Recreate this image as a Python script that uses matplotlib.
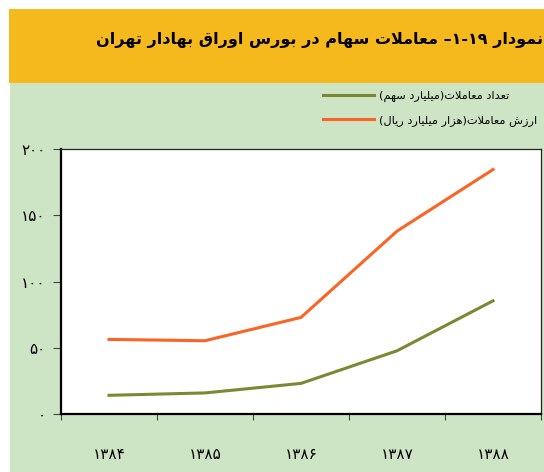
import matplotlib
matplotlib.use("Agg")
import matplotlib.pyplot as plt
from matplotlib.patches import Rectangle
from matplotlib.ticker import FixedLocator

plt.rcParams['font.family'] = ['DejaVu Sans']

# data
years = ['۱۳۸۴', '۱۳۸۵', '۱۳۸۶', '۱۳۸۷', '۱۳۸۸']
count_vals = [14.1, 15.9, 23.1, 47.7, 85.4]      # تعداد معاملات (میلیارد سهم)
value_vals = [56.3, 55.3, 72.9, 138.0, 184.5]    # ارزش معاملات (هزار میلیارد ریال)
y_ticks = [0, 50, 100, 150, 200]
y_labels = ['۰', '۵۰', '۱۰۰', '۱۵۰', '۲۰۰']

title = 'نمودار ۱۹-۱– معاملات سهام در بورس اوراق بهادار تهران'
label_count = 'تعداد معاملات(میلیارد سهم)'
label_value = 'ارزش معاملات(هزار میلیارد ریال)'

# minimal arabic/persian shaping (matplotlib has no text shaping)
# char: (isolated, final, initial, medial) ; None initial => right-joining only
FORMS = {
    'ا': (0xFE8D, 0xFE8E, None, None),
    'ب': (0xFE8F, 0xFE90, 0xFE91, 0xFE92),
    'ت': (0xFE95, 0xFE96, 0xFE97, 0xFE98),
    'د': (0xFEA9, 0xFEAA, None, None),
    'ر': (0xFEAD, 0xFEAE, None, None),
    'ز': (0xFEAF, 0xFEB0, None, None),
    'س': (0xFEB1, 0xFEB2, 0xFEB3, 0xFEB4),
    'ش': (0xFEB5, 0xFEB6, 0xFEB7, 0xFEB8),
    'ع': (0xFEC9, 0xFECA, 0xFECB, 0xFECC),
    'ق': (0xFED5, 0xFED6, 0xFED7, 0xFED8),
    'ل': (0xFEDD, 0xFEDE, 0xFEDF, 0xFEE0),
    'م': (0xFEE1, 0xFEE2, 0xFEE3, 0xFEE4),
    'ن': (0xFEE5, 0xFEE6, 0xFEE7, 0xFEE8),
    'ه': (0xFEE9, 0xFEEA, 0xFEEB, 0xFEEC),
    'و': (0xFEED, 0xFEEE, None, None),
    'ی': (0xFBFC, 0xFBFD, 0xFBFE, 0xFBFF),
}
DIGITS = '۰۱۲۳۴۵۶۷۸۹'


def dual(c):
    return c in FORMS and FORMS[c][2] is not None


def rtl(text):
    out = []
    i = 0
    n = len(text)
    while i < n:
        c = text[i]
        if c not in FORMS:
            out.append({'(': ')', ')': '('}.get(c, c))
            i += 1
            continue
        prev_join = i > 0 and dual(text[i - 1])
        if c == 'ل' and i + 1 < n and text[i + 1] == 'ا':
            out.append(chr(0xFEFC if prev_join else 0xFEFB))
            i += 2
            continue
        next_join = dual(c) and i + 1 < n and text[i + 1] in FORMS
        f = FORMS[c]
        if prev_join and next_join:
            out.append(chr(f[3]))
        elif prev_join:
            out.append(chr(f[1]))
        elif next_join:
            out.append(chr(f[2]))
        else:
            out.append(chr(f[0]))
        i += 1
    vis = ''.join(out)[::-1]
    # keep digit runs left-to-right
    res, run = '', ''
    for c in vis:
        if c in DIGITS:
            run += c
        else:
            res += run[::-1] + c
            run = ''
    return res + run[::-1]


fig = plt.figure(figsize=(5.44, 4.72), dpi=100)
fig.patch.set_facecolor('white')
W, H = 544.0, 472.0
fig.add_artist(Rectangle((10 / W, 0), 1, 1 - 83 / H, transform=fig.transFigure,
                         facecolor='#cde5c5', edgecolor='none', zorder=0))
fig.add_artist(Rectangle((9 / W, 1 - 83 / H), 1, 74 / H, transform=fig.transFigure,
                         facecolor='#f5b91d', edgecolor='none', zorder=0))
fig.text(543 / W, 1 - 40 / H, rtl(title), fontsize=11.5, fontweight='bold',
         ha='right', va='center', color='black')

ax = fig.add_axes([61 / W, 1 - 414 / H, 480 / W, 265 / H])
ax.set_facecolor('white')
x = list(range(len(years)))
ax.plot(x, count_vals, color='#7e8733', lw=2.2, label=rtl(label_count))
ax.plot(x, value_vals, color='#fb6424', lw=2.2, label=rtl(label_value))

ax.set_xlim(-0.5, len(years) - 0.5)
ax.set_ylim(0, 200)
ax.set_yticks(y_ticks)
ax.set_yticklabels(y_labels, fontsize=11)
ax.tick_params(axis='y', direction='out', length=6, width=0.8, color='#444444', pad=5)

ax.xaxis.set_major_locator(FixedLocator([i - 0.5 for i in range(len(years) + 1)]))
ax.set_xticklabels([])
ax.xaxis.set_minor_locator(FixedLocator(x))
ax.set_xticklabels(years, minor=True, fontsize=11)
ax.tick_params(axis='x', which='major', direction='out', length=4.5, width=0.8, color='#444444')
ax.tick_params(axis='x', which='minor', length=0, pad=24)

for s in ['left', 'bottom']:
    ax.spines[s].set_linewidth(1.6)
    ax.spines[s].set_color('black')
for s in ['top', 'right']:
    ax.spines[s].set_linewidth(0.9)
    ax.spines[s].set_color('#222222')

fig.legend(loc='upper left', bbox_to_anchor=(318 / W, 1 - 86 / H), frameon=False,
           fontsize=8.2, handlelength=4.5, labelspacing=1.15, handletextpad=0.45,
           borderaxespad=0)

fig.savefig('out.png', dpi=100)
